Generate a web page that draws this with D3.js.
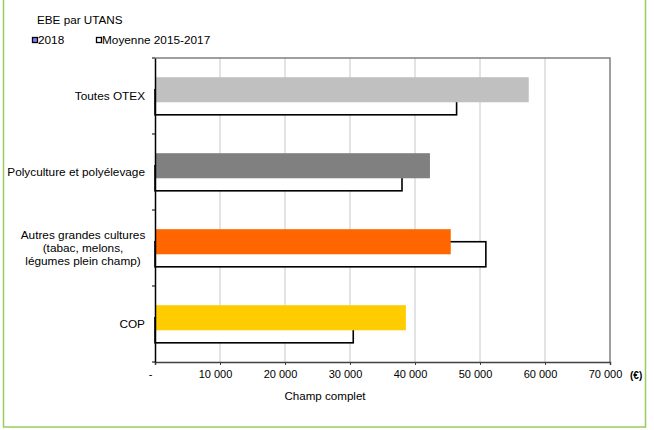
<!DOCTYPE html>
<html>
<head>
<meta charset="utf-8">
<script src="https://cdn.jsdelivr.net/npm/d3@7/dist/d3.min.js"></script>
<style>
  html, body { margin: 0; padding: 0; background: #fff; }
  svg { display: block; font-family: "Liberation Sans", Arial, sans-serif; }
</style>
</head>
<body>
<svg id="chart" width="654" height="430"></svg>
<script>
// EBE par UTANS, 2018 versus the 2015-2017 average, by OTEX
const categories = [
  ["Toutes OTEX"],
  ["Polyculture et polyélevage"],
  ["Autres grandes cultures", "(tabac, melons,", "légumes plein champ)"],
  ["COP"]
];
const values2018 = [57500, 42300, 45500, 38600];
const valuesAvg = [46400, 38000, 50900, 30500];
const barColors = ["#c0c0c0", "#808080", "#ff6600", "#ffcc00"];
const xTicks = [0, 10000, 20000, 30000, 40000, 50000, 60000, 70000];
const seriesNames = ["2018", "Moyenne 2015-2017"];

const FONT = "'Liberation Sans', Arial, sans-serif";
const svg = d3.select("#chart");
const plotLeft = 155, plotRight = 610, plotTop = 58, plotBottom = 362;

// outer frame
svg.append("rect")
  .attr("x", 3.5).attr("y", -5).attr("width", 642).attr("height", 432)
  .attr("fill", "none").attr("stroke", "#9bcb5c").attr("stroke-width", 1.5);

const keys = categories.map(c => c.join(" "));
const x = d3.scaleLinear().domain([0, 70000]).range([plotLeft, plotRight]);
const y = d3.scaleBand().domain(keys).range([plotTop, plotBottom]);

const bw = y.bandwidth();
const barH = bw * 0.33;
const groupOffset = (bw - barH * 1.5) / 2;

// vertical gridlines
svg.append("g").selectAll("line")
  .data(xTicks.slice(1, -1))
  .join("line")
  .attr("x1", d => x(d)).attr("x2", d => x(d))
  .attr("y1", plotTop).attr("y2", plotBottom)
  .attr("stroke", "#c8c8c8").attr("stroke-width", 1);

// plot area border top / right
svg.append("path")
  .attr("d", `M${plotLeft},${plotTop}H${plotRight}V${plotBottom}`)
  .attr("fill", "none").attr("stroke", "#808080").attr("stroke-width", 1.5);

// average bars (outline, drawn behind)
svg.append("g").selectAll("rect")
  .data(valuesAvg)
  .join("rect")
  .attr("x", x(0))
  .attr("y", (d, i) => y(keys[i]) + groupOffset + barH * 0.5)
  .attr("width", d => x(d) - x(0))
  .attr("height", barH)
  .attr("fill", "#fff").attr("stroke", "#000").attr("stroke-width", 1.6);

// 2018 bars
svg.append("g").selectAll("rect")
  .data(values2018)
  .join("rect")
  .attr("x", x(0))
  .attr("y", (d, i) => y(keys[i]) + groupOffset)
  .attr("width", d => x(d) - x(0))
  .attr("height", barH)
  .attr("fill", (d, i) => barColors[i]);

// x axis
const xAxis = d3.axisBottom(x)
  .tickValues(xTicks)
  .tickSize(3)
  .tickFormat(d => d === 0 ? "-" : d3.format(",")(d).replace(/,/g, " "));
const gx = svg.append("g").attr("transform", `translate(0,${plotBottom})`).call(xAxis)
  .attr("font-family", FONT).attr("font-size", 11);
gx.select(".domain").attr("stroke", "#404040").attr("stroke-width", 1.5);
gx.selectAll(".tick line").attr("stroke", "#404040");
gx.selectAll(".tick text")
  .attr("fill", "#000")
  .attr("x", -5)
  .attr("dy", "0.95em");

// y axis
const yAxis = d3.axisLeft(y).tickSize(0).tickFormat("");
const gy = svg.append("g").attr("transform", `translate(${plotLeft},0)`).call(yAxis);
gy.select(".domain").attr("stroke", "#000").attr("stroke-width", 1.5);
// boundary ticks between categories
svg.append("g").selectAll("line")
  .data(d3.range(categories.length + 1))
  .join("line")
  .attr("x1", plotLeft - 3).attr("x2", plotLeft)
  .attr("y1", i => plotTop + i * bw).attr("y2", i => plotTop + i * bw)
  .attr("stroke", "#000").attr("stroke-width", 1);

// category labels
const labels = svg.append("g")
  .attr("font-family", FONT).attr("font-size", 11.8).attr("fill", "#000");
categories.forEach((lines, i) => {
  const cy = y(keys[i]) + bw / 2;
  const lh = 13.3;
  const multi = lines.length > 1;
  const lx = multi ? 83 : 145;
  const t = labels.append("text")
    .attr("text-anchor", multi ? "middle" : "end")
    .attr("y", cy - (lines.length - 1) * lh / 2);
  lines.forEach((line, j) => {
    t.append("tspan")
      .attr("x", lx)
      .attr("dy", j === 0 ? "0.35em" : lh)
      .text(line);
  });
});

// axis title and unit
svg.append("text")
  .attr("x", 325).attr("y", 400).attr("text-anchor", "middle")
  .attr("font-family", FONT).attr("font-size", 11.6).text("Champ complet");
svg.append("text")
  .attr("x", 630).attr("y", 379)
  .attr("font-family", FONT).attr("font-size", 10).attr("font-weight", "bold").text("(€)");

// title
svg.append("text")
  .attr("x", 37).attr("y", 24)
  .attr("font-family", FONT).attr("font-size", 11.7).text("EBE par UTANS");

// legend
const legend = svg.append("g").attr("font-family", FONT).attr("font-size", 11.8);
const legendX = [32, 96];
const legendFill = ["#8080ff", "#fff"];
seriesNames.forEach((name, i) => {
  legend.append("rect")
    .attr("x", legendX[i] + 0.5).attr("y", 37.5)
    .attr("width", 5).attr("height", 5)
    .attr("fill", legendFill[i]).attr("stroke", "#000").attr("stroke-width", 1.3);
  legend.append("text")
    .attr("x", legendX[i] + 6).attr("y", 44).text(name);
});
</script>
</body>
</html>
